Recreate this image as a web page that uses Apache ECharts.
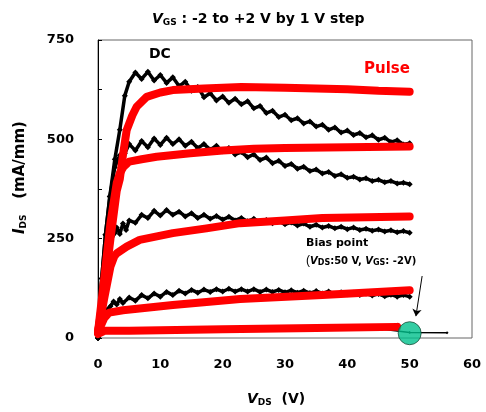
<!DOCTYPE html>
<html><head><meta charset="utf-8">
<script src="https://cdn.jsdelivr.net/npm/echarts@6/dist/echarts.min.js"></script>
<style>html,body{margin:0;padding:0;background:#fff}#c{width:486px;height:412px}</style>
</head><body><div id="c"></div>
<script>
// X axis ticks and Y axis ticks
const xTicks = [0, 10, 20, 30, 40, 50, 60];
const yTicks = [0, 250, 500, 750];
// DC curves [VDS (V), IDS (mA/mm)]
const dcP2 = [[0,0],[0.6,150],[1.2,260],[1.9,356],[2.7,450],[3.5,524],[4.3,610],[5,645],[6,668],[7,652],[8,670],[9,648],[10,662],[11,642],[12,656],[13,634],[14,645],[15,622],[16,632],[17,606],[18,616],[19,598],[20,608],[21,592],[22,602],[23,588],[24,596],[25,578],[26,584],[27,566],[28,572],[29,556],[30,562],[31,548],[32,553],[33,540],[34,545],[35,532],[36,537],[37,524],[38,530],[39,517],[40,522],[41,511],[42,516],[43,505],[44,510],[45,499],[46,504],[47,493],[48,498],[49,487],[50,490]];
const dcP1 = [[0,0],[0.6,150],[1.2,260],[1.9,356],[2.7,430],[3.5,460],[4.3,465],[5,488],[6,472],[7,496],[8,480],[9,502],[10,486],[11,504],[12,488],[13,500],[14,484],[15,494],[16,478],[17,488],[18,474],[19,484],[20,470],[21,478],[22,462],[23,468],[24,455],[25,462],[26,448],[27,454],[28,440],[29,446],[30,433],[31,438],[32,426],[33,431],[34,420],[35,424],[36,414],[37,418],[38,408],[39,412],[40,403],[41,406],[42,399],[43,402],[44,395],[45,398],[46,392],[47,395],[48,389],[49,391],[50,387]];
const dc0 = [[0,0],[0.5,80],[1,150],[1.5,210],[2,245],[2.7,264],[3,278],[3.5,262],[4,288],[4.5,272],[5,296],[6,290],[7,310],[8,302],[9,320],[10,308],[11,322],[12,310],[13,318],[14,306],[15,314],[16,302],[17,310],[18,300],[19,307],[20,298],[21,305],[22,296],[23,302],[24,294],[25,300],[26,292],[27,297],[28,289],[29,294],[30,286],[31,291],[32,283],[33,288],[34,280],[35,285],[36,278],[37,282],[38,276],[39,280],[40,274],[41,278],[42,272],[43,275],[44,270],[45,273],[46,268],[47,271],[48,266],[49,269],[50,265]];
const dcM1 = [[0,0],[0.5,30],[1,55],[1.5,72],[2,80],[2.5,92],[3,84],[3.5,98],[4,88],[5,102],[6,94],[7,108],[8,100],[9,112],[10,104],[11,116],[12,108],[13,119],[14,112],[15,121],[16,114],[17,122],[18,116],[19,123],[20,117],[21,124],[22,117],[23,123],[24,117],[25,123],[26,116],[27,122],[28,116],[29,121],[30,115],[31,120],[32,114],[33,119],[34,113],[35,118],[36,112],[37,117],[38,111],[39,115],[40,110],[41,114],[42,108],[43,112],[44,107],[45,111],[46,105],[47,109],[48,104],[49,108],[50,104]];
const dcM2 = [[0,0],[1,15],[2,20],[5,18],[10,22],[15,20],[20,23],[25,21],[30,24],[35,22],[40,25],[45,23],[50,14],[56,13]];
// Pulse curves
const puP2 = [[0,15],[1,120],[2,250],[3,370],[3.5,400],[4,460],[4.6,523],[5.5,560],[6.2,582],[7.8,607],[10,618],[12,624],[17,628],[23,632],[30,630],[40,626],[45,622],[50,620]];
const puP1 = [[0,15],[1,150],[2,290],[3,390],[3.5,415],[4.1,431],[5,444],[7,450],[9.4,456],[14.8,465],[20,472],[25,476],[30,478],[40,480],[50,482]];
const pu0 = [[0,15],[1,100],[2,180],[2.6,205],[3,213],[4.6,230],[6.7,247],[12,264],[17.4,276],[22.8,289],[30,296],[36,302],[50,306]];
const puM1 = [[0,15],[1,50],[1.8,64],[4,70],[12,83],[22.8,98],[36,108],[50,120]];
const puM2 = [[0,10],[1,18],[5,18],[20,22],[35,25],[48,28]];
const biasPoint = [[50, 12]];
const biasArrow = [[52, 156], [51, 55]];

const chart = echarts.init(document.getElementById('c'));
const F = 'DejaVu Sans, Liberation Sans, sans-serif';
function dc(d){return {type:'line',data:d,showSymbol:true,symbol:'diamond',symbolSize:6,
  itemStyle:{color:'#000'},lineStyle:{color:'#000',width:3.5},z:2,animation:false};}
function pu(d){return {type:'line',data:d,showSymbol:false,symbol:'none',
  lineStyle:{color:'#ff0000',width:8,cap:'round',join:'round'},z:3,animation:false};}
function rt(size, sub, pad){return {
  v:{fontFamily:F,fontWeight:'bold',fontStyle:'italic',fontSize:size,fill:'#000'},
  s:{fontFamily:F,fontWeight:'bold',fontSize:sub,fill:'#000',verticalAlign:'bottom',padding:[pad,0,0,0]},
  t:{fontFamily:F,fontWeight:'bold',fontSize:size,fill:'#000'}};}
chart.setOption({
  animation:false,
  grid:{left:98,right:14,top:40,bottom:74,show:true,borderColor:'#666',borderWidth:1},
  xAxis:{type:'value',min:0,max:60,interval:10,
    axisLine:{show:false},axisTick:{show:false},splitLine:{show:false},
    axisLabel:{margin:20,fontFamily:F,fontWeight:'bold',fontSize:13,color:'#000'}},
  yAxis:{type:'value',min:0,max:750,interval:250,
    axisLine:{show:true,lineStyle:{color:'#000'}},
    axisTick:{show:true,inside:true,length:4,lineStyle:{color:'#000'}},
    minorTick:{show:true,splitNumber:2,length:4,lineStyle:{color:'#000'}},
    splitLine:{show:false},
    axisLabel:{margin:24,fontFamily:F,fontWeight:'bold',fontSize:13,color:'#000'}},
  series:[dc(dcP2),dc(dcP1),dc(dc0),dc(dcM1),
    {type:'line',data:dcM2,showSymbol:true,symbol:'diamond',symbolSize:3,itemStyle:{color:'#000'},lineStyle:{color:'#000',width:1.5},z:2},
    pu(puP2),pu(puP1),pu(pu0),pu(puM1),pu(puM2),
    {type:'scatter',data:biasPoint,symbol:'circle',symbolSize:23,
      itemStyle:{color:'#00c08c',borderColor:'#1a4d3a',borderWidth:1},z:5,
      markLine:{silent:true,symbol:['none','arrow'],symbolSize:7,label:{show:false},
        lineStyle:{color:'#000',width:1,type:'solid'},
        data:[[{coord:biasArrow[0]},{coord:biasArrow[1]}]]}}
  ],
  graphic:[
    {type:'text',x:152,y:12,style:{text:'{v|V}{s|GS}{t| : -2 to +2 V by 1 V step}',rich:rt(14,9,6)}},
    {type:'text',x:149,y:47,style:{text:'DC',fontFamily:F,fontWeight:'bold',fontSize:14,fill:'#000'}},
    {type:'text',x:364,y:62,style:{text:'Pulse',fontFamily:F,fontWeight:'bold',fontSize:15,fill:'#ff0000'}},
    {type:'text',x:306,y:238,style:{text:'Bias point',fontFamily:F,fontWeight:'bold',fontSize:11,fill:'#000'}},
    {type:'text',x:306,y:255,style:{text:'({v|V}{s|DS}{t|:50 V, }{v|V}{s|GS}{t|: -2V)}',rich:rt(10,8,4)}},
    {type:'text',x:247,y:392,style:{text:'{v|V}{s|DS}{t|  (V)}',rich:rt(14,9,6)}},
    {type:'text',x:13,y:234,rotation:Math.PI/2,style:{text:'{v|I}{s|DS}{t|   (mA/mm)}',rich:rt(15,9,6)}}
  ]
});
</script></body></html>
